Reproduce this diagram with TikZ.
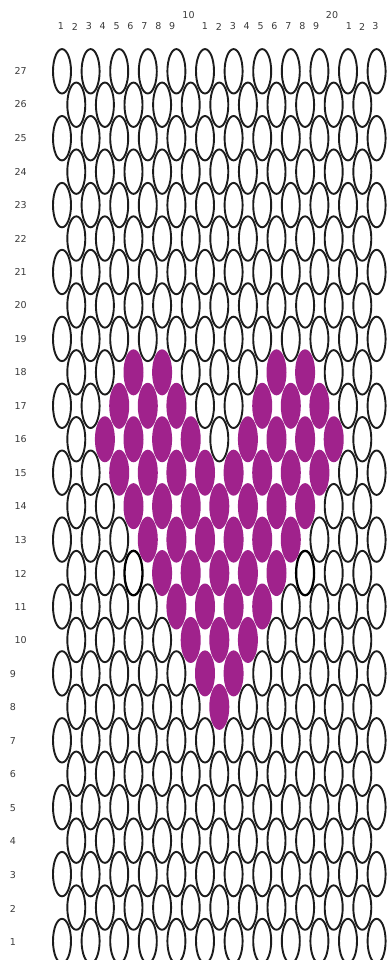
\documentclass[tikz,border=0pt]{standalone}
\usepackage{fontspec}
\setmainfont{DejaVu Sans}
\definecolor{bead}{RGB}{160,34,140}
\definecolor{txt}{RGB}{60,60,60}
\definecolor{ink}{RGB}{28,28,28}
\tikzset{
  beadline/.style={draw=ink, line width=1.9pt},
  boldline/.style={draw=black, line width=2.3pt},
  beadfill/.style={fill=bead},
  lbl/.style={text=txt, font=\fontsize{9.5pt}{10pt}\selectfont, inner sep=0pt}
}
\begin{document}
\begin{tikzpicture}[x=1pt,y=-1pt]
\useasboundingbox (0,0) rectangle (388,960);
\fill[white] (0,0) rectangle (388,960);
% purple beads: row / columns
\foreach \r/\cs in {8/{12},9/{11,13},10/{10,12,14},11/{9,11,13,15},12/{8,10,12,14,16},
  13/{7,9,11,13,15,17},14/{6,8,10,12,14,16,18},15/{5,7,9,11,13,15,17,19},
  16/{4,6,8,10,14,16,18,20},17/{5,7,9,15,17,19},18/{6,8,16,18}}{
  \foreach \c in \cs {\expandafter\gdef\csname pb-\r-\c\endcsname{1}}
}
\expandafter\gdef\csname bb-12-6\endcsname{1}
\expandafter\gdef\csname bb-12-18\endcsname{1}
\foreach \r in {1,...,27}{
  \pgfmathtruncatemacro\odd{mod(\r,2)}
  \ifnum\odd=1 \def\clist{1,3,...,23}\else\def\clist{2,4,...,22}\fi
  \pgfmathsetmacro\yy{941-(\r-1)*33.45}
  \foreach \c in \clist {
    \pgfmathsetmacro\xx{62+(\c-1)*14.3}
    \ifcsname pb-\r-\c\endcsname
      \path[beadfill] (\xx,\yy) ellipse[x radius=10pt, y radius=23pt];
    \else
      \ifcsname bb-\r-\c\endcsname
        \path[boldline] (\xx,\yy) ellipse[x radius=9pt, y radius=22.2pt];
      \else
        \path[beadline] (\xx,\yy) ellipse[x radius=9pt, y radius=22.2pt];
      \fi
    \fi
  }
}
% row labels
\foreach \r in {1,...,9}{
  \node[lbl] (row\r) at (12.8,{942-(\r-1)*33.5}) {\r};
}
\foreach \r in {10,...,27}{
  \node[lbl] (row\r) at (20.6,{942-(\r-1)*33.5}) {\r};
}
% column labels
\foreach \i in {1,...,9}{
  \node[lbl] (ca\i) at ({61+13.9*(\i-1)},26.5) {\i};
  \node[lbl] (cb\i) at ({205+13.9*(\i-1)},26.5) {\i};
}
\node[lbl] (c10) at (188.5,15.5) {10};
\node[lbl] (c20) at (332,15.5) {20};
\foreach \i in {1,2,3}{
  \node[lbl] (cc\i) at ({349+13.25*(\i-1)},26.5) {\i};
}
\end{tikzpicture}
\end{document}
